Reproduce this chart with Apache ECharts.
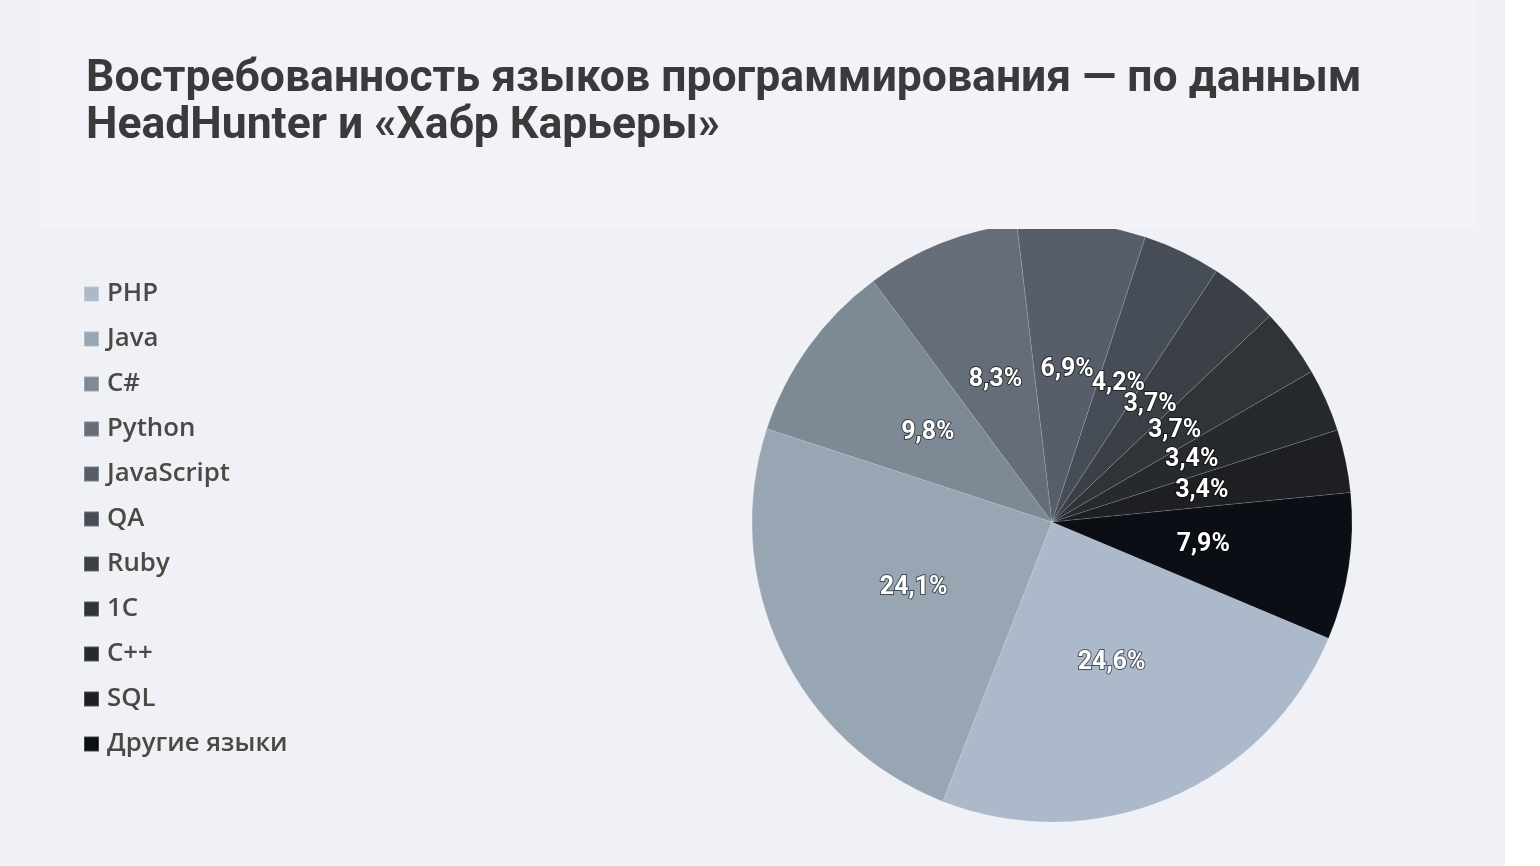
<!DOCTYPE html>
<html>
<head>
<meta charset="utf-8">
<script src="https://cdn.jsdelivr.net/npm/echarts@6/dist/echarts.min.js"></script>
<style>
    html, body { margin: 0; padding: 0; background: #ffffff; }
    #chart { width: 1505px; height: 866px; }
</style>
</head>
<body>
<div id="chart"></div>
<script>
    // категории и доли, %
    var languages = ["PHP", "Java", "C#", "Python", "JavaScript", "QA", "Ruby", "1C", "C++", "SQL", "Другие языки"];
    var shares = [24.6, 24.1, 9.8, 8.3, 6.9, 4.2, 3.7, 3.7, 3.4, 3.4, 7.9];
    var colors = ["#abb9cb", "#98a6b3", "#7d8995", "#646d78", "#555e69", "#474d56",
                  "#3b4046", "#303438", "#26292d", "#1d1f22", "#0b0e15"];

    var chart = echarts.init(document.getElementById("chart"));

    var pieData = languages.map(function (name, i) {
        return { name: name, value: shares[i] };
    });

    var option = {
        backgroundColor: "#f0f1f6",
        color: colors,
        title: {
            text: "Востребованность языков программирования — по данным\nHeadHunter и «Хабр Карьеры»",
            left: 81,
            top: 51,
            z: 10,
            textStyle: {
                fontFamily: "Roboto",
                fontWeight: 700,
                fontSize: 44.5,
                lineHeight: 47,
                color: "#3a3a3b"
            }
        },
        graphic: [{
            type: "rect",
            z: 5,
            silent: true,
            shape: { x: 40, y: 0, width: 1437, height: 229 },
            style: { fill: "#f2f3f8" }
        }],
        legend: {
            orient: "vertical",
            left: 78,
            top: 276,
            icon: "rect",
            itemWidth: 15,
            itemHeight: 15,
            itemGap: 19,
            selectedMode: false,
            textStyle: {
                fontFamily: "Open Sans",
                fontWeight: 600,
                fontSize: 25.8,
                lineHeight: 26,
                color: "#4c4844",
                padding: [0, 0, 0, 3]
            }
        },
        series: [{
            type: "pie",
            center: [1052, 522],
            radius: [0, 300],
            startAngle: -22.8,
            clockwise: true,
            data: pieData,
            itemStyle: {
                borderColor: "rgba(255,255,255,0.22)",
                borderWidth: 0.6
            },
            labelLayout: { hideOverlap: false },
            label: {
                position: "inside",
                formatter: function (p) {
                    return p.value.toFixed(1).replace(".", ",") + "%";
                },
                fontFamily: "Roboto",
                fontWeight: 700,
                fontSize: 25,
                color: "#ffffff",
                textBorderColor: "rgba(0,0,0,0.55)",
                textBorderWidth: 2
            },
            labelLine: { show: false },
            emphasis: { disabled: true }
        }]
    };

    chart.setOption(option);
</script>
</body>
</html>
